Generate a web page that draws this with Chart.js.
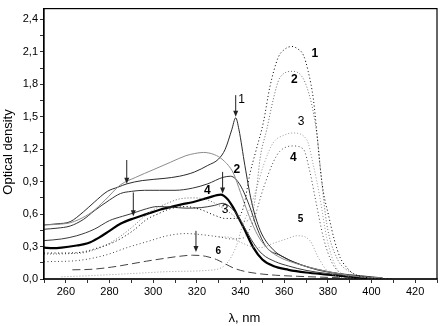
<!DOCTYPE html>
<html>
<head>
<meta charset="utf-8">
<script src="https://cdn.jsdelivr.net/npm/chart.js@4"></script>
<style>
  html, body { margin: 0; padding: 0; background: #fff; }
  #wrap { width: 441px; height: 326px; position: relative; }
</style>
</head>
<body>
<div id="wrap"><canvas id="spectra"></canvas></div>
<script>
// solid spectra [wavelength nm, optical density]
var solid1 = [[250,0.50],[256,0.51],[262,0.53],[268,0.62],[273,0.71],[279,0.81],[284,0.85],[288,0.88],[295,0.91],[305,0.93],[312,0.95],[319,0.99],[325,1.05],[330,1.11],[333,1.20],[336,1.38],[337.8,1.49],[339.3,1.38],[342,1.05],[345,0.72],[349,0.45],[355,0.27],[360,0.20],[368,0.13],[376,0.08],[385,0.05],[395,0.03],[405,0.01]];
var solidGray = [[250,0.50],[256,0.505],[262,0.52],[266,0.55],[272,0.62],[278,0.73],[285,0.87],[292,0.94],[300,1.01],[308,1.08],[315,1.14],[319,1.16],[323,1.17],[328,1.15],[332,1.10],[336.7,0.98],[340,0.80],[344,0.58],[348,0.40],[353,0.27],[358,0.20],[366,0.14],[375,0.09],[385,0.05],[395,0.02],[405,0.01]];
var solid2 = [[250,0.46],[256,0.47],[262,0.49],[268,0.55],[273,0.63],[280,0.73],[285,0.79],[290,0.81],[296,0.82],[303,0.82],[310,0.82],[318,0.84],[325,0.88],[332,0.94],[335.5,0.95],[339.8,0.87],[344.4,0.66],[347.4,0.48],[352,0.29],[358,0.22],[365,0.15],[375,0.09],[385,0.05],[395,0.02],[405,0.01]];
var solid3 = [[250,0.355],[258,0.37],[265,0.40],[273,0.46],[280,0.54],[286,0.58],[291,0.61],[297,0.65],[302,0.67],[308,0.665],[315,0.655],[322,0.66],[328,0.68],[332,0.70],[335,0.67],[338.3,0.60],[342,0.47],[346,0.33],[350,0.23],[356,0.16],[362,0.12],[370,0.08],[380,0.05],[390,0.03],[400,0.01]];
var solidThick = [[250,0.29],[254,0.285],[258,0.29],[265,0.31],[270,0.33],[275,0.38],[280,0.445],[285,0.51],[291,0.56],[297,0.60],[303,0.64],[308,0.665],[313,0.69],[318,0.71],[325,0.75],[331,0.78],[334,0.74],[336.7,0.66],[339,0.57],[341.3,0.48],[345.9,0.29],[350,0.18],[355,0.12],[362,0.085],[370,0.06],[380,0.04],[390,0.02],[398,0.0]];

// dotted spectra
var dotted1 = [[250,0.24],[258,0.24],[266,0.245],[275,0.29],[283,0.35],[291,0.45],[297,0.55],[302,0.60],[308,0.65],[315,0.67],[322,0.64],[328,0.59],[333,0.56],[338,0.56],[341.3,0.66],[344.4,0.98],[347,1.18],[350.5,1.45],[353.5,1.78],[357.3,2.05],[360,2.12],[363.5,2.15],[366,2.13],[368.8,2.07],[371,1.92],[373.4,1.66],[375,1.35],[376.4,1.05],[378,0.80],[380.2,0.60],[383,0.36],[385.6,0.20],[388.5,0.11],[391.7,0.05],[396,0.02],[402,0.005],[410,0]];
var dotted2 = [[250,0.23],[262,0.235],[270,0.25],[280,0.33],[286,0.41],[291,0.49],[296,0.58],[301,0.65],[306.5,0.70],[312,0.74],[318.7,0.75],[325,0.73],[330,0.68],[336,0.60],[341,0.53],[345,0.58],[347.4,0.84],[349,1.12],[352,1.38],[355,1.66],[358,1.86],[364,1.92],[370.3,1.78],[374.9,1.35],[377.2,0.90],[379.5,0.51],[384,0.20],[391.7,0.05],[398,0.01]];
var dotted3 = [[258,0.02],[270,0.03],[290,0.05],[310,0.07],[325,0.08],[333,0.13],[338,0.30],[341,0.50],[344.4,0.66],[347.4,0.84],[350.5,1.05],[355,1.26],[360,1.33],[364,1.35],[370.3,1.29],[373.4,1.05],[376.4,0.75],[379.5,0.38],[384,0.10],[390,0.02]];
var dotted4 = [[250,0.16],[265,0.17],[278,0.22],[288,0.29],[298,0.35],[306.5,0.40],[315,0.42],[322,0.41],[330,0.39],[336,0.37],[341.3,0.38],[345.9,0.54],[350.5,0.84],[355,1.08],[358,1.18],[364,1.23],[368.8,1.20],[371.8,0.99],[374.2,0.75],[378,0.38],[381.9,0.15],[386,0.05],[392,0.01]];
var dotted5 = [[330,0.39],[335.2,0.385],[340,0.34],[345,0.30],[349,0.29],[355,0.33],[361,0.37],[366,0.40],[371.8,0.355],[375.6,0.20],[379.5,0.08],[385,0.02],[392,0]];
var dashed6 = [[263,0.085],[272,0.09],[281,0.11],[290,0.14],[297,0.165],[305,0.19],[312,0.21],[318,0.22],[324,0.21],[329,0.18],[333,0.14],[337,0.10],[342,0.07],[348,0.05],[356,0.035],[366,0.025],[380,0.015],[395,0.005]];

// curve numbers [text, nm, density, bold, size]
var curveLabels = [
  ["1", 340.5, 1.66, false, 12], ["2", 338.3, 1.01, true, 12], ["3", 332.9, 0.64, false, 12],
  ["4", 324.8, 0.815, true, 12], ["6", 329.8, 0.26, true, 10],
  ["1", 374.1, 2.08, true, 12], ["2", 364.7, 1.84, true, 12], ["3", 367.7, 1.45, false, 12],
  ["4", 364.2, 1.12, true, 12], ["5", 367.5, 0.55, true, 10]
];
// arrows [nm, from, to]
var arrows = [[287.9,1.10,0.88],[290.9,0.80,0.58],[331.8,0.99,0.79],[319.6,0.445,0.25],[337.8,1.70,1.50]];

function pts(a) {
  return a.map(function(p) { return { x: p[0], y: p[1] }; });
}
function line(data, color, width, dash) {
  return {
    data: pts(data),
    borderColor: color,
    borderWidth: width,
    borderDash: dash || [],
    pointRadius: 0,
    fill: false,
    cubicInterpolationMode: "monotone"
  };
}

var decorations = {
  id: "decorations",
  afterDatasetsDraw: function(chart) {
    var ctx = chart.ctx, a = chart.chartArea;
    var xs = chart.scales.x, ys = chart.scales.y;
    ctx.save();

    // arrows
    ctx.strokeStyle = "#222";
    ctx.fillStyle = "#222";
    ctx.lineWidth = 1;
    arrows.forEach(function(ar) {
      var x = xs.getPixelForValue(ar[0]);
      var y1 = ys.getPixelForValue(ar[1]);
      var y2 = ys.getPixelForValue(ar[2]);
      ctx.beginPath();
      ctx.moveTo(x, y1);
      ctx.lineTo(x, y2 - 4);
      ctx.stroke();
      ctx.beginPath();
      ctx.moveTo(x, y2);
      ctx.lineTo(x - 2.5, y2 - 6);
      ctx.lineTo(x + 2.5, y2 - 6);
      ctx.closePath();
      ctx.fill();
    });

    // curve numbers
    ctx.fillStyle = "#000";
    ctx.textAlign = "center";
    ctx.textBaseline = "middle";
    curveLabels.forEach(function(l) {
      ctx.font = (l[3] ? "bold " : "") + l[4] + "px 'Liberation Sans', Arial, sans-serif";
      ctx.fillText(l[0], xs.getPixelForValue(l[1]), ys.getPixelForValue(l[2]));
    });

    // frame
    ctx.strokeStyle = "#000";
    ctx.lineWidth = 1.2;
    ctx.strokeRect(a.left, a.top, a.right - a.left, a.bottom - a.top);

    // axis titles
    ctx.font = "13px 'Liberation Sans', Arial, sans-serif";
    ctx.fillText("\u03bb, nm", (a.left + a.right) / 2 + 4, 318);
    ctx.translate(8, 152);
    ctx.rotate(-Math.PI / 2);
    ctx.fillText("Optical density", 0, 0);
    ctx.restore();
  }
};

var ctx = document.getElementById("spectra").getContext("2d");

new Chart(ctx, {
  type: "line",
  data: {
    datasets: [
      line(dotted1, "#000", 1, [1, 2.5]),
      line(dotted2, "#6a6a6a", 1, [1, 2]),
      line(dotted3, "#9a9a9a", 1, [1, 2]),
      line(dotted4, "#444", 1, [1, 2.5]),
      line(dotted5, "#999", 1, [1, 2]),
      line(dashed6, "#444", 1, [8, 4]),
      line(solidGray, "#8c8c8c", 1),
      line(solid1, "#2a2a2a", 1),
      line(solid2, "#333", 1),
      line(solid3, "#3a3a3a", 1),
      line(solidThick, "#000", 2.2)
    ]
  },
  options: {
    responsive: true,
    maintainAspectRatio: false,
    animation: false,
    layout: { padding: { top: 4, right: 4, left: 0, bottom: 0 } },
    plugins: {
      legend: { display: false },
      tooltip: { enabled: false }
    },
    scales: {
      x: {
        type: "linear",
        min: 250,
        max: 430,
        afterFit: function(scale) { scale.height = 47; },
        border: { display: true, color: "#666", width: 2 },
        grid: { drawOnChartArea: false, drawTicks: true, tickLength: 4, color: "#333" },
        ticks: {
          stepSize: 10,
          autoSkip: false,
          maxRotation: 0,
          includeBounds: false,
          padding: 2,
          color: "#000",
          font: { family: "'Liberation Sans', Arial, sans-serif", size: 11 },
          callback: function(value) { return value % 20 === 0 ? value : ""; }
        }
      },
      y: {
        type: "linear",
        min: 0,
        max: 2.5,
        afterFit: function(scale) { scale.width = 44; },
        border: { display: true, color: "#000", width: 1.2 },
        grid: { drawOnChartArea: false, drawTicks: true, tickLength: 4, color: "#333" },
        ticks: {
          stepSize: 0.15,
          autoSkip: false,
          includeBounds: false,
          padding: 2,
          color: "#000",
          font: { family: "'Liberation Sans', Arial, sans-serif", size: 11 },
          callback: function(value) {
            var k = value / 0.3;
            if (Math.abs(k - Math.round(k)) > 1e-6) return "";
            return value.toFixed(1).replace(".", ",");
          }
        }
      }
    }
  },
  plugins: [decorations]
});
</script>
</body>
</html>
